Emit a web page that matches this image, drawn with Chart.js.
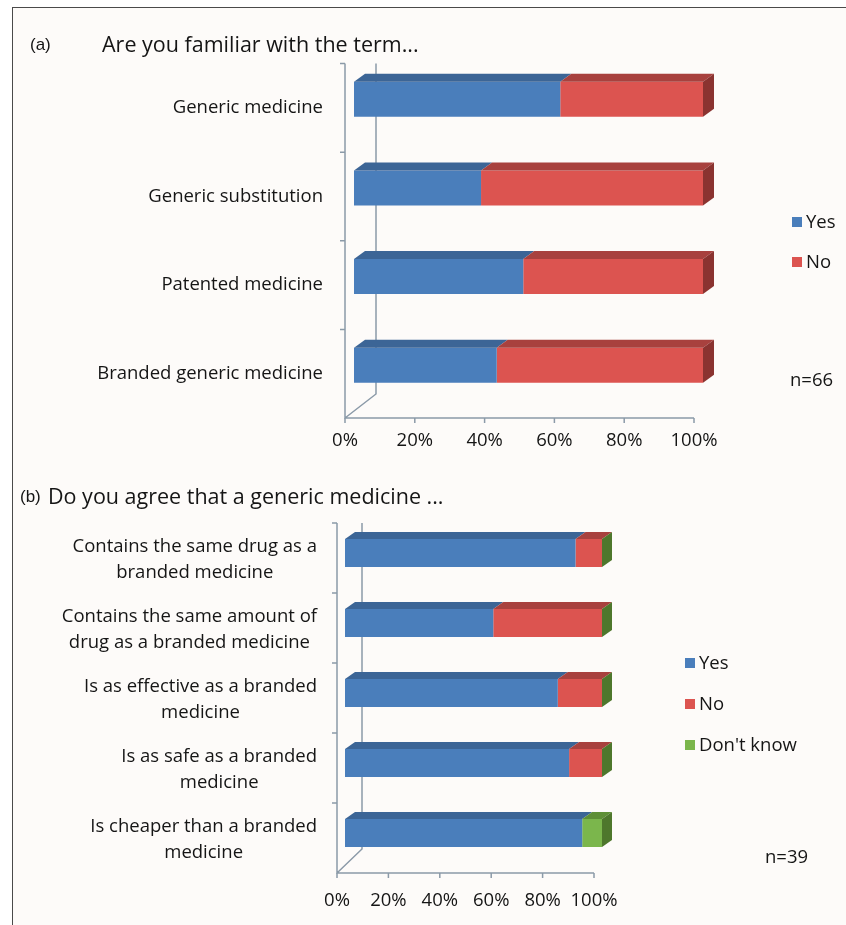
<!DOCTYPE html>
<html>
<head>
<meta charset="utf-8">
<script src="https://cdn.jsdelivr.net/npm/chart.js@4.4.1/dist/chart.umd.min.js"></script>
<style>
  html, body { margin: 0; padding: 0; background: #ffffff; }
  #page { position: relative; width: 846px; height: 925px; overflow: hidden; background: #ffffff; }
  #frame { position: absolute; left: 12px; top: 7px; width: 860px; height: 940px;
           border-left: 1.5px solid #4a4a4a; border-top: 1.5px solid #4a4a4a; background: #fdfbf9; }
  canvas { position: absolute; left: 0; }
  .t { position: absolute; color: #151515; white-space: nowrap; line-height: 1; }
  .panel { font-family: 'Liberation Sans', Arial, sans-serif; font-size: 17px; }
  .head { font-family: 'Open Sans', sans-serif; font-size: 21.5px; }
</style>
</head>
<body>
<div id="page">
  <div id="frame"></div>
  <canvas id="chartA" width="846" height="460" style="top:0px"></canvas>
  <canvas id="chartB" width="846" height="465" style="top:460px"></canvas>
  <div class="t panel" style="left:30px; top:36px;">(a)</div>
  <div class="t head" style="left:102px; top:33px;">Are you familiar with the term...</div>
  <div class="t panel" style="left:20px; top:488px;">(b)</div>
  <div class="t head" style="left:48px; top:485px;">Do you agree that a generic medicine ...</div>
</div>
<script>
// ---- survey (a): familiarity with terms, n = 66 ----
const termsA = ['Generic medicine', 'Generic substitution', 'Patented medicine', 'Branded generic medicine'];
const yesA = [59.1, 36.4, 48.5, 40.9];
const noA  = [40.9, 63.6, 51.5, 59.1];
const sampleA = 'n=66';

// ---- survey (b): agreement with statements, n = 39 ----
const statementsB = [
  ['Contains the same drug as a', 'branded medicine'],
  ['Contains the same amount of', 'drug as a branded medicine'],
  ['Is as effective as a branded', 'medicine'],
  ['Is as safe as a branded', 'medicine'],
  ['Is cheaper than a branded', 'medicine']
];
const yesB      = [89.7, 57.7, 82.8, 87.2, 92.3];
const noB       = [10.3, 42.3, 17.2, 12.8, 0];
const dontKnowB = [0, 0, 0, 0, 7.7];
const sampleB = 'n=39';

const percentTicks = [0, 20, 40, 60, 80, 100];

// face colours: front / top / side
const BLUE  = { front: '#4a7ebb', top: '#3c6596', side: '#32557f' };
const RED   = { front: '#dc5450', top: '#a8413e', side: '#8a3330' };
const GREEN = { front: '#7bb64c', top: '#5e8f36', side: '#4e772c' };

const FONT = 'Open Sans, sans-serif';
const TEXT = '#151515';
const AXIS = '#8b9aa8';

// Draws the 3-D box look of an Excel style stacked bar chart:
// walls and floor behind the bars, then the top and end faces of each stack,
// the category labels, the legend and the sample-size note.
const boxPlugin = {
  id: 'box3d',
  beforeDatasetsDraw(chart, args, o) {
    const { ctx, chartArea: a, scales: { x, y } } = chart;
    const fx = v => x.getPixelForValue(v) + o.shift.x;
    const floorY = a.bottom + o.shift.y;
    const topY = a.top + o.shift.y;
    const x0 = fx(0);
    ctx.save();
    ctx.strokeStyle = AXIS;
    ctx.lineWidth = 1.5;
    ctx.beginPath();
    // back edge of the side wall
    ctx.moveTo(x0 + o.wall.x, topY);
    ctx.lineTo(x0 + o.wall.x, floorY + o.wall.y);
    // floor edge running back into the chart
    ctx.lineTo(x0, floorY);
    // front edge of the side wall
    ctx.moveTo(x0, topY);
    ctx.lineTo(x0, floorY);
    // floor front edge
    ctx.lineTo(fx(100), floorY);
    ctx.stroke();
    // category dividers on the wall
    const n = y.getLabels().length;
    const band = (a.bottom - a.top) / n;
    ctx.beginPath();
    for (let i = 0; i < n; i++) {
      const yy = y.getPixelForValue(i) - band / 2 + o.shift.y;
      ctx.moveTo(x0 - 5, yy);
      ctx.lineTo(x0, yy);
    }
    // value ticks under the floor
    percentTicks.forEach(v => {
      ctx.moveTo(fx(v), floorY);
      ctx.lineTo(fx(v), floorY + 5);
    });
    ctx.stroke();
    ctx.restore();
  },
  afterDatasetsDraw(chart, args, o) {
    const { ctx, chartArea: a, scales: { y } } = chart;
    const sets = chart.data.datasets;
    const n = y.getLabels().length;
    ctx.save();
    for (let i = 0; i < n; i++) {
      let endX = -Infinity, yt = 0, yb = 0;
      sets.forEach((ds, d) => {
        const el = chart.getDatasetMeta(d).data[i];
        const p = el.getProps(['x', 'y', 'base', 'height'], true);
        const l = Math.min(p.x, p.base), r = Math.max(p.x, p.base);
        yt = p.y - p.height / 2;
        yb = p.y + p.height / 2;
        endX = Math.max(endX, r);
        if (r > l) {
          ctx.fillStyle = ds.faces.top;
          ctx.beginPath();
          ctx.moveTo(l, yt);
          ctx.lineTo(l + o.depth.x, yt + o.depth.y);
          ctx.lineTo(r + o.depth.x, yt + o.depth.y);
          ctx.lineTo(r, yt);
          ctx.closePath();
          ctx.fill();
        }
      });
      // end face takes the colour of the outermost series
      ctx.fillStyle = sets[sets.length - 1].faces.side;
      ctx.beginPath();
      ctx.moveTo(endX, yt);
      ctx.lineTo(endX + o.depth.x, yt + o.depth.y);
      ctx.lineTo(endX + o.depth.x, yb + o.depth.y);
      ctx.lineTo(endX, yb);
      ctx.closePath();
      ctx.fill();
    }

    // category labels: block right-aligned, lines centred inside the block
    ctx.font = o.labelFont + 'px ' + FONT;
    ctx.fillStyle = TEXT;
    ctx.textBaseline = 'middle';
    ctx.textAlign = 'center';
    y.getLabels().forEach((lab, i) => {
      const lines = Array.isArray(lab) ? lab : [lab];
      const w = Math.max(...lines.map(s => ctx.measureText(s).width));
      const cx = a.left - o.labelGap - w / 2;
      const cy = y.getPixelForValue(i) + o.labelShift;
      lines.forEach((s, k) => {
        ctx.fillText(s, cx, cy + (k - (lines.length - 1) / 2) * o.lineHeight);
      });
    });

    // legend
    ctx.textAlign = 'left';
    sets.forEach((ds, d) => {
      const ly = o.legend.y + d * o.legend.step;
      ctx.fillStyle = ds.faces.front;
      ctx.fillRect(o.legend.x, ly - 5, 10, 10);
      ctx.fillStyle = TEXT;
      ctx.fillText(ds.label, o.legend.x + 14, ly + 1);
    });

    // sample size
    ctx.fillText(o.note.text, o.note.x, o.note.y);
    ctx.restore();
  }
};

function dataset(label, values, faces) {
  return { label, data: values, faces, backgroundColor: faces.front, borderWidth: 0,
           barPercentage: 1, categoryPercentage: 1 };
}

function makeChart(id, labels, sets, geo, box) {
  sets.forEach(s => { s.barPercentage = geo.bar; });
  return new Chart(document.getElementById(id), {
    type: 'bar',
    data: { labels, datasets: sets },
    options: {
      indexAxis: 'y',
      responsive: false,
      animation: false,
      events: [],
      layout: { padding: { left: 0, right: geo.right, top: geo.top, bottom: 0 } },
      plugins: { legend: { display: false }, tooltip: { enabled: false }, box3d: box },
      scales: {
        x: {
          stacked: true, min: 0, max: 100,
          grid: { display: false, drawTicks: false },
          border: { display: false },
          ticks: { stepSize: 20, callback: v => v + '%', labelOffset: box.shift.x,
                   autoSkip: false, maxRotation: 0, minRotation: 0,
                   padding: geo.tickPad, color: TEXT, font: { family: FONT, size: 18.5 } },
          afterFit(s) { s.height = geo.axisH; }
        },
        y: {
          stacked: true,
          grid: { display: false },
          border: { display: false },
          ticks: { display: false },
          afterFit(s) { s.width = geo.left; }
        }
      }
    },
    plugins: [boxPlugin]
  });
}

makeChart('chartA', termsA,
  [dataset('Yes', yesA, BLUE), dataset('No', noA, RED)],
  { left: 354, right: 143, top: 55, axisH: 50.5, tickPad: 20, bar: 0.395 },
  { shift: { x: -9, y: 8.5 }, wall: { x: 31, y: -24 }, depth: { x: 11, y: -8 },
    labelFont: 18.5, labelGap: 31, labelShift: 8.5, lineHeight: 26,
    legend: { x: 792, y: 222, step: 40 },
    note: { text: sampleA, x: 790, y: 381 } });

makeChart('chartB', statementsB,
  [dataset('Yes', yesB, BLUE), dataset('No', noB, RED), dataset("Don't know", dontKnowB, GREEN)],
  { left: 345, right: 244, top: 58, axisH: 57, tickPad: 22, bar: 0.4 },
  { shift: { x: -8, y: 5 }, wall: { x: 25, y: -24 }, depth: { x: 10, y: -7 },
    labelFont: 18.5, labelGap: 28, labelShift: 7, lineHeight: 26,
    legend: { x: 685, y: 203, step: 41 },
    note: { text: sampleB, x: 765, y: 398 } });
</script>
</body>
</html>
